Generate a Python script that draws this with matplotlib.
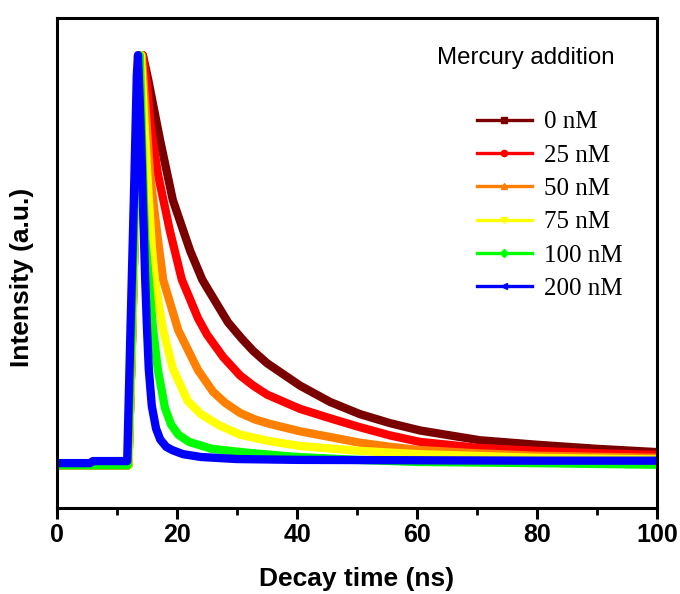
import matplotlib
matplotlib.use("Agg")
import matplotlib.pyplot as plt
from matplotlib.lines import Line2D
from matplotlib.ticker import MultipleLocator

# ---- data ----
labels = ["0 nM", "25 nM", "50 nM", "75 nM", "100 nM", "200 nM"]
colors = ["#7a0000", "#ff0000", "#ff8000", "#ffff00", "#00ff00", "#0000ff"]
markers = ["s", "o", "^", "v", "D", "<"]

t_0 = [0, 6, 11.9, 12.5, 13.1, 13.6, 14.3, 15.2, 17.2, 19.3, 22.2, 24.2, 25.0, 28.5,
       30.8, 32.7, 35.0, 40.5, 45.5, 50.5, 55.5, 60.5, 70.5, 80, 90, 100]
i_0 = [-0.005, -0.005, -0.005, 0.3, 0.65, 0.9, 1.0, 0.94, 0.79, 0.645, 0.52, 0.45,
       0.43, 0.345, 0.305, 0.275, 0.245, 0.19, 0.15, 0.12, 0.098, 0.08, 0.056, 0.045,
       0.035, 0.027]

t_25 = [0, 6, 11.9, 12.5, 13.1, 13.6, 14.3, 15.0, 15.5, 16.8, 18.8, 20.8, 23.5, 25.0,
        27.7, 30.5, 32.7, 35.0, 40.5, 45.5, 50.5, 55.5, 60.5, 70.5, 80, 90, 100]
i_25 = [-0.005, -0.005, -0.005, 0.3, 0.65, 0.9, 1.0, 0.93, 0.84, 0.71, 0.57, 0.45,
        0.355, 0.315, 0.26, 0.215, 0.19, 0.168, 0.133, 0.11, 0.088, 0.068, 0.052, 0.037,
        0.03, 0.024, 0.02]

t_50 = [0, 6, 11.9, 12.5, 13.1, 13.6, 14.1, 14.6, 15.5, 16.8, 17.7, 20.2, 23.5, 26.0,
        28.0, 30.5, 33.0, 35.5, 40.5, 45.5, 50.5, 55.5, 60.5, 70, 80, 100]
i_50 = [-0.005, -0.005, -0.005, 0.3, 0.65, 0.9, 1.0, 0.9, 0.71, 0.55, 0.449, 0.326,
        0.228, 0.175, 0.148, 0.123, 0.107, 0.096, 0.078, 0.064, 0.05, 0.04, 0.032, 0.024,
        0.018, 0.013]

t_75 = [0, 6, 11.9, 12.5, 13.1, 13.6, 14.0, 14.5, 15.0, 15.8, 16.3, 17.7, 19.3, 21.8,
        24.0, 27.0, 30.5, 35.0, 40.5, 50.5, 60, 80, 100]
i_75 = [-0.005, -0.005, -0.005, 0.3, 0.65, 0.9, 1.0, 0.85, 0.72, 0.53, 0.449, 0.326,
        0.232, 0.152, 0.12, 0.093, 0.07, 0.055, 0.042, 0.03, 0.022, 0.013, 0.009]

t_100 = [0, 6, 11.8, 12.4, 13.0, 13.4, 13.8, 14.3, 14.7, 15.3, 16.0, 16.8, 18.0,
         19.0, 20.2, 22.0, 25.8, 32.0, 40, 50, 60, 80, 100]
i_100 = [-0.005, -0.005, -0.005, 0.3, 0.68, 0.92, 1.0, 0.72, 0.55, 0.45, 0.33, 0.23,
         0.135, 0.095, 0.07, 0.052, 0.035, 0.025, 0.015, 0.008, 0.003, 0.0, -0.004]

t_200 = [0, 5.5, 6.0, 11.7, 12.2, 12.9, 13.3, 13.5, 14.0, 14.4, 14.7, 15.0, 15.3,
         15.8, 16.5, 17.2, 18.2, 19.2, 21.0, 24.0, 30.0, 40, 60, 80, 100]
i_200 = [0.0, 0.0, 0.005, 0.005, 0.3, 0.7, 0.95, 1.0, 0.8, 0.6, 0.45, 0.33, 0.23,
         0.14, 0.085, 0.058, 0.04, 0.032, 0.022, 0.015, 0.01, 0.008, 0.007, 0.006, 0.006]

times = [t_0, t_25, t_50, t_75, t_100, t_200]
intens = [i_0, i_25, i_50, i_75, i_100, i_200]

x_ticks = [0, 20, 40, 60, 80, 100]

# ---- figure ----
W, H = 680, 594
fig = plt.figure(figsize=(W / 100, H / 100), dpi=100)
ax = fig.add_axes([57 / W, 1 - 508 / H, 600 / W, 490 / H])

for t, y, c in zip(times, intens, colors):
    ax.plot(t, y, color=c, lw=6.0, solid_joinstyle="round", solid_capstyle="round")

ax.set_xlim(0, 100)
ax.set_ylim(-0.110, 1.091)
ax.set_xticks(x_ticks)
ax.xaxis.set_minor_locator(MultipleLocator(10))
ax.set_yticks([])

bold = dict(family=["Liberation Sans", "DejaVu Sans"], weight="bold")
ax.set_xticklabels([str(v) for v in x_ticks], fontsize=18, **bold)
ax.tick_params(axis="x", which="major", direction="out", length=8, width=2.2, pad=3)
ax.tick_params(axis="x", which="minor", direction="out", length=5, width=2.0)
for s in ax.spines.values():
    s.set_linewidth(2.2)

ax.set_xlabel("Decay time (ns)", fontsize=19, labelpad=14, **bold)
fig.text(22 / W, 1 - 277 / H, "Intensity (a.u.)", rotation=90, ha="center",
         va="center", fontsize=19, **bold)

# legend
fig.text(437 / W, 1 - 58 / H, "Mercury addition", ha="left", va="center",
         fontsize=17.3, family=["Liberation Sans", "DejaVu Sans"])
handles = [Line2D([], [], color=c, lw=2.4, marker=m, markersize=4.5,
                  markeredgecolor=c, markerfacecolor=c)
           for c, m in zip(colors, markers)]
leg = ax.legend(handles, labels, loc="upper left",
                bbox_to_anchor=(477 / W, 1 - 111 / H), bbox_transform=fig.transFigure,
                frameon=False, borderpad=0, borderaxespad=0, handlelength=2.2,
                handletextpad=0.5, labelspacing=0.43,
                prop=dict(family=["Liberation Serif", "DejaVu Serif"], size=18))

fig.savefig("out.png", dpi=100)
